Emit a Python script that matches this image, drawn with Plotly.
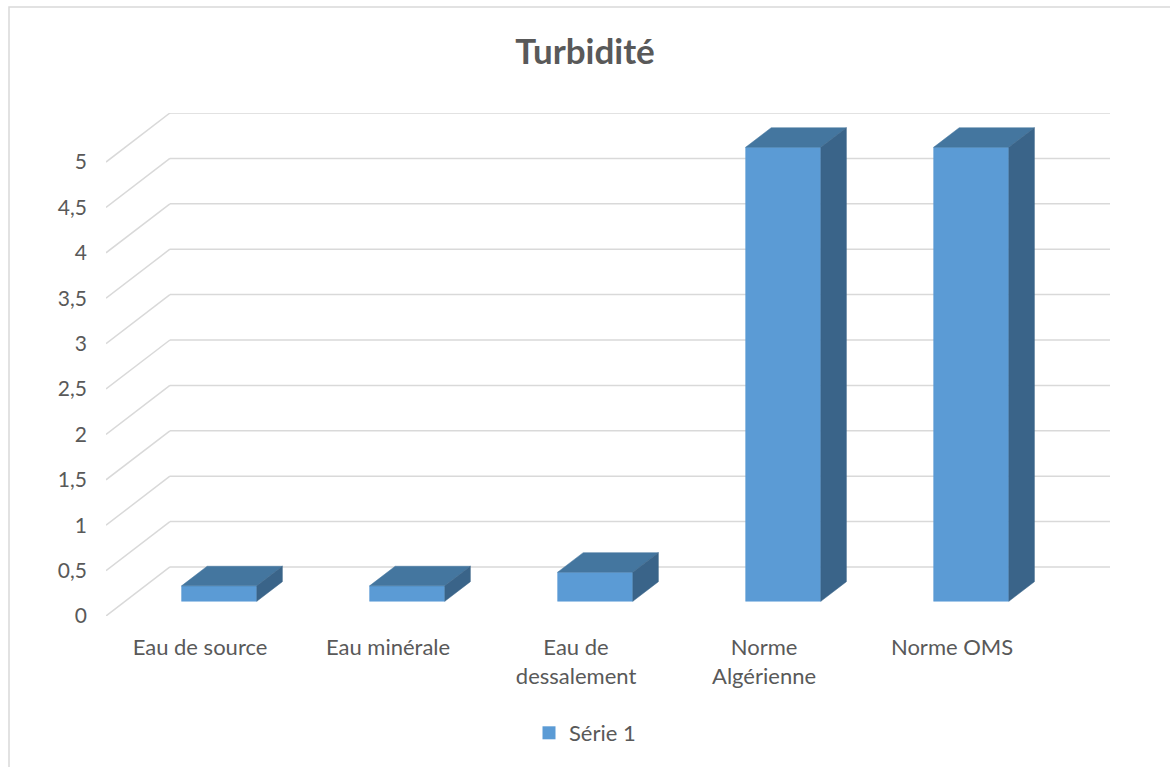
import plotly.graph_objects as go

# Turbidity by water type (NTU)
categories = ["Eau de source", "Eau minérale", "Eau de<br>dessalement", "Norme<br>Algérienne", "Norme OMS"]
values = [0.17, 0.17, 0.32, 5, 5]
series_name = "Série 1"
y_ticks = [0, 0.5, 1, 1.5, 2, 2.5, 3, 3.5, 4, 4.5, 5]
y_tick_labels = ["0", "0,5", "1", "1,5", "2", "2,5", "3", "3,5", "4", "4,5", "5"]

# Oblique projection of the 3D box: depth d in [0, 1] shifts right and up
DX = 0.34   # depth shift along x (category units)
DY = 0.54   # depth shift along y (value units)
D_FRONT, D_BACK = 0.3, 0.7   # bar depth span
HALF_W = 0.2                 # half bar width (category units)

FRONT_COL = "#5B9BD5"
TOP_COL = "#44769F"
SIDE_COL = "#3A6489"
GRID_COL = "#D9D9D9"
TEXT_COL = "#595959"
FONT = "Lato"


def proj(x, y, d):
    return x + d * DX, y + d * DY


def polygon(pts):
    xs, ys = zip(*[proj(*p) for p in pts])
    return list(xs) + [xs[0]], list(ys) + [ys[0]]


fig = go.Figure()

# back wall grid lines and left wall diagonals
n = len(categories)
gx, gy = [], []
for v in y_ticks:
    for a, b in (((0, v, 1), (n, v, 1)), ((0, v, 0), (0, v, 1))):
        x0, y0 = proj(*a)
        x1, y1 = proj(*b)
        gx += [x0, x1, None]
        gy += [y0, y1, None]
fig.add_trace(go.Scatter(x=gx, y=gy, mode="lines", line=dict(color=GRID_COL, width=1.5),
                         hoverinfo="skip", showlegend=False))

# 3D columns: front, top and right side faces
for i, v in enumerate(values):
    c = i + 0.5
    l, r = c - HALF_W, c + HALF_W
    faces = [
        ([(l, 0, D_FRONT), (r, 0, D_FRONT), (r, v, D_FRONT), (l, v, D_FRONT)], FRONT_COL),
        ([(l, v, D_FRONT), (r, v, D_FRONT), (r, v, D_BACK), (l, v, D_BACK)], TOP_COL),
        ([(r, 0, D_FRONT), (r, 0, D_BACK), (r, v, D_BACK), (r, v, D_FRONT)], SIDE_COL),
    ]
    for pts, col in faces:
        xs, ys = polygon(pts)
        fig.add_trace(go.Scatter(x=xs, y=ys, mode="lines", fill="toself", fillcolor=col,
                                 line=dict(color=col, width=0.5), hoverinfo="skip",
                                 showlegend=False))

# legend entry
fig.add_trace(go.Scatter(x=[None], y=[None], mode="markers", name=series_name,
                         marker=dict(symbol="square", size=13, color=FRONT_COL)))

fig.update_layout(
    width=1170, height=767, autosize=False,
    margin=dict(l=106, r=60, t=113, b=151),
    paper_bgcolor="white", plot_bgcolor="white",
    font=dict(family=FONT, size=21, color=TEXT_COL),
    title=dict(text="<b>Turbidité</b>", x=0.5, xref="container", xanchor="center",
               y=1 - 52 / 767, yref="container", yanchor="middle",
               font=dict(family=FONT, size=35, color=TEXT_COL)),
    xaxis=dict(range=[0, n + DX], tickvals=[i + 0.5 for i in range(n)], ticktext=categories,
               showgrid=False, zeroline=False, showline=False, ticks="",
               tickfont=dict(family=FONT, size=22, color=TEXT_COL),
               ticklabelstandoff=16, fixedrange=True),
    yaxis=dict(range=[0, 5 + DY], tickvals=y_ticks, ticktext=y_tick_labels,
               showgrid=False, zeroline=False, showline=False, ticks="",
               ticklabelstandoff=18, fixedrange=True),
    legend=dict(orientation="h", x=0.5, xref="container", xanchor="center",
                y=1 - 733 / 767, yref="container", yanchor="middle",
                font=dict(family=FONT, size=22, color=TEXT_COL)),
    shapes=[dict(type="rect", xref="paper", yref="paper",
                 x0=(9 - 106) / 1004, x1=2, y0=-2, y1=(616 - 7) / 503,
                 line=dict(color=GRID_COL, width=1.5), layer="below")],
)

fig.write_html("out.html")
